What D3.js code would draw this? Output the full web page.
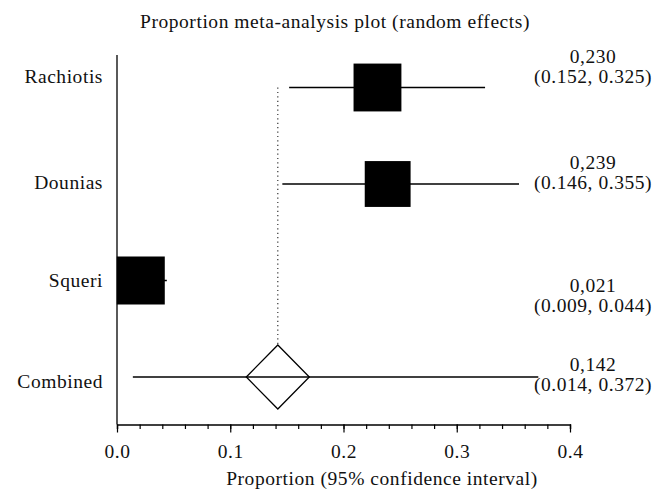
<!DOCTYPE html>
<html>
<head>
<meta charset="utf-8">
<script src="https://cdn.jsdelivr.net/npm/d3@7"></script>
<style>
  body { margin: 0; background: #fff; }
  text { font-family: "Liberation Serif", "Times New Roman", serif; fill: #111; letter-spacing: 0.55px; }
</style>
</head>
<body>
<script>
// data
var studies   = ["Rachiotis", "Dounias", "Squeri", "Combined"];
var estimates = [0.230, 0.239, 0.021, 0.142];
var lower     = [0.152, 0.146, 0.009, 0.014];
var upper     = [0.325, 0.355, 0.044, 0.372];
var weights   = [34.2, 31.4, 34.4];           // % weight, sets box size
var estLabels = ["0,230", "0,239", "0,021", "0,142"];
var xTicks    = [0.0, 0.1, 0.2, 0.3, 0.4];

var width = 662, height = 491;
var fs = "19.5px";

// layout tweaks so the labels sit where the original put them
var nameDy  = [-4.5, 4.5, 6.5, 11];
var statDy  = [-24.5, -15.5, 11.5, -6];

var svg = d3.select("body").append("svg")
    .attr("width", width)
    .attr("height", height);

var x = d3.scaleLinear().domain([0, 0.4]).range([117, 570]);
var y = d3.scalePoint().domain(studies).range([87.5, 377]);
var box = d3.scaleSqrt().domain([0, d3.max(weights)]).range([0, 48]);

// title
svg.append("text")
    .attr("x", 335).attr("y", 28)
    .attr("text-anchor", "middle")
    .style("font-size", fs)
    .text("Proportion meta-analysis plot (random effects)");

// y axis line
svg.append("line")
    .attr("x1", x(0)).attr("x2", x(0))
    .attr("y1", 55).attr("y2", 424.5)
    .attr("stroke", "#000").attr("stroke-width", 1.3);

// x axis: minor ticks first, then major with labels
var axisG = svg.append("g").attr("transform", "translate(0,424.5)");
axisG.call(d3.axisBottom(x).tickValues(d3.range(0, 0.4001, 0.02)).tickSize(4.5).tickFormat(""));
axisG.append("g").call(d3.axisBottom(x).tickValues(xTicks).tickSize(8).tickFormat(d3.format(".1f")));
axisG.selectAll(".domain").attr("stroke", "#000").attr("stroke-width", 1.3);
axisG.selectAll("line").attr("stroke", "#000").attr("stroke-width", 1.2);
axisG.selectAll("text")
    .attr("y", 20)
    .style("font-size", fs)
    .style("font-family", "Liberation Serif, serif")
    .attr("fill", "#111");
axisG.selectAll(".domain").filter(function (d, i) { return i > 0; }).remove();

svg.append("text")
    .attr("x", 382).attr("y", 485)
    .attr("text-anchor", "middle")
    .style("font-size", fs)
    .text("Proportion (95% confidence interval)");

// dotted reference line at pooled estimate
var pooled = estimates[3];
svg.append("line")
    .attr("x1", x(pooled)).attr("x2", x(pooled))
    .attr("y1", y(studies[0])).attr("y2", y(studies[3]) - 32)
    .attr("stroke", "#222").attr("stroke-width", 1.1)
    .attr("stroke-dasharray", "1.2,3.2");

// confidence interval lines
svg.selectAll(".ci").data(studies).enter().append("line")
    .attr("class", "ci")
    .attr("x1", function (d, i) { return x(lower[i]); })
    .attr("x2", function (d, i) { return x(upper[i]); })
    .attr("y1", function (d) { return y(d); })
    .attr("y2", function (d) { return y(d); })
    .attr("stroke", "#000").attr("stroke-width", 1.3);

// study boxes
svg.selectAll(".box").data(studies.slice(0, 3)).enter().append("rect")
    .attr("class", "box")
    .attr("x", function (d, i) { return x(estimates[i]) - box(weights[i]) / 2; })
    .attr("y", function (d, i) { return y(d) - box(weights[i]) / 2; })
    .attr("width", function (d, i) { return box(weights[i]); })
    .attr("height", function (d, i) { return box(weights[i]); })
    .attr("fill", "#000");

// pooled diamond
var cx = x(pooled), cy = y(studies[3]), h = 32, w = 31.5;
svg.append("path")
    .attr("d", "M" + (cx - w) + "," + cy + "L" + cx + "," + (cy - h) +
               "L" + (cx + w) + "," + cy + "L" + cx + "," + (cy + h) + "Z")
    .attr("fill", "#fff").attr("stroke", "#000").attr("stroke-width", 1.3);
svg.append("line")
    .attr("x1", cx - w).attr("x2", cx + w)
    .attr("y1", cy).attr("y2", cy)
    .attr("stroke", "#000").attr("stroke-width", 1.3);

// study names
svg.selectAll(".name").data(studies).enter().append("text")
    .attr("class", "name")
    .attr("x", 103)
    .attr("y", function (d, i) { return y(d) + nameDy[i]; })
    .attr("text-anchor", "end")
    .style("font-size", fs)
    .text(function (d) { return d; });

// estimate and CI text on the right
var stat = svg.selectAll(".stat").data(studies).enter().append("g")
    .attr("class", "stat")
    .attr("transform", function (d, i) { return "translate(593," + (y(d) + statDy[i]) + ")"; });
stat.append("text")
    .attr("text-anchor", "middle")
    .style("font-size", fs)
    .text(function (d, i) { return estLabels[i]; });
stat.append("text")
    .attr("y", 20)
    .attr("text-anchor", "middle")
    .style("font-size", fs)
    .text(function (d, i) { return "(" + lower[i].toFixed(3) + ", " + upper[i].toFixed(3) + ")"; });
</script>
</body>
</html>
